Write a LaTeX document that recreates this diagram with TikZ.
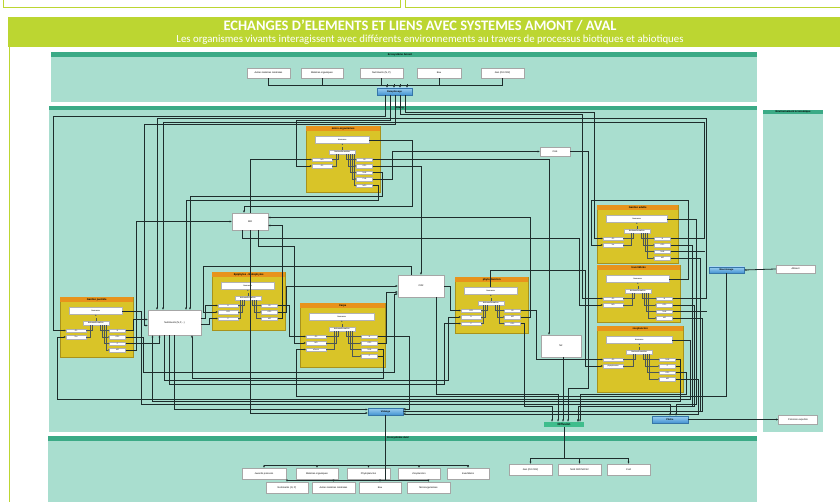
\documentclass[tikz,border=0pt]{standalone}
\usepackage{fontspec}
\setmainfont{Liberation Sans}
\newfontfamily\titlefont{Carlito}
\usetikzlibrary{arrows.meta,calc}
\definecolor{lime}{HTML}{BCD631}
\definecolor{panelc}{HTML}{A9DECF}
\definecolor{stripc}{HTML}{3BAA86}
\definecolor{bioy}{HTML}{D9C428}
\definecolor{biob}{HTML}{A8921C}
\definecolor{orng}{HTML}{E8931C}
\definecolor{linec}{HTML}{1E2C2C}
\definecolor{bluetop}{HTML}{9CCFF0}
\definecolor{bluebot}{HTML}{4393D2}
\definecolor{diffc}{HTML}{3FBD8C}
\tikzset{
  panel/.style={fill=panelc, draw=none},
  strip/.style={fill=stripc, draw=none},
  ptitle/.style={font=\fontsize{2.6}{3}\selectfont\bfseries, text=black, inner sep=0pt},
  wbox/.style={fill=white, draw=gray!70, line width=0.3pt, inner sep=0pt, font=\fontsize{2.4}{3}\selectfont},
  biobox/.style={fill=bioy, draw=biob, line width=0.6pt, inner sep=0pt},
  tbar/.style={fill=orng, draw=none, minimum height=4.5pt, inner sep=0pt, font=\fontsize{2.6}{3}\selectfont\bfseries},
  inbox/.style={fill=white, draw=gray!60, line width=0.2pt, inner sep=0pt, font=\fontsize{2}{2.4}\selectfont},
  port/.style={fill=white, draw=gray!60, line width=0.2pt, inner sep=0pt, minimum height=3.6pt, font=\fontsize{1.8}{2}\selectfont},
  ilink/.style={draw=linec!80, line width=0.35pt, -{Latex[length=1.2pt,width=1.2pt]}},
  iline/.style={draw=linec!80, line width=0.35pt},
  conn/.style={draw=linec, line width=0.8pt, -{Latex[length=2.2pt,width=2pt]}},
  bus/.style={draw=linec, line width=0.8pt},
  bluen/.style={top color=bluetop, bottom color=bluebot, draw=bluebot!80!black, line width=0.3pt, inner sep=0pt, font=\fontsize{2.4}{3}\selectfont\bfseries},
  diffn/.style={fill=diffc, draw=none, inner sep=0pt, font=\fontsize{3}{3.5}\selectfont\bfseries},
}
\newcommand{\BioBox}[8]{%
  \pgfmathsetmacro{\bw}{#4-#2}%
  \pgfmathsetmacro{\bh}{#5-#3}%
  \node[biobox, minimum width=\bw pt, minimum height=\bh pt, anchor=north west] (#1) at (#2,#3) {};
  \node[tbar, minimum width=\bw pt, anchor=north west] (#1-t) at (#2,#3) {#6};
  \node[inbox, minimum width=\bw pt-20pt, minimum height=7pt] (#1-b) at ($(#1.north)+(-1,14)$) {biomasse};
  \node[inbox, minimum width=26pt, minimum height=4.5pt] (#1-bt) at ($(#1.north)+(-1,26)$) {biotransformation};
  \draw[ilink, densely dashed] (#1-bt.north) -- (#1-b.south);
  \foreach \lab [count=\i] in {#7} {
    \node[port, minimum width=20pt, anchor=west] (#1-l\i) at ($(#1.north west)+(6,{27+6.5*\i})$) {\lab};
    \draw[iline] (#1-l\i.east) -| ($(#1-bt.south)+({-2-2*\i},0)$);
  }
  \foreach \lab [count=\i] in {#8} {
    \node[port, minimum width=16pt, anchor=east] (#1-r\i) at ($(#1.north east)+(-8,{27+6.5*\i})$) {\lab};
    \draw[ilink] ($(#1-bt.south)+({2+2*\i},0)$) |- (#1-r\i.west);
  }
}
\begin{document}
\begin{tikzpicture}[x=1pt,y=-1pt]
\useasboundingbox (0,0) rectangle (840,502);
\fill[white] (0,0) rectangle (840,502);
% header
\draw[lime, line width=1pt, fill=white] (3,-5) rectangle (400,8);
\draw[lime, line width=1pt, fill=white] (405,-5) rectangle (845,8);
\fill[lime] (8,17) rectangle (845,47);
\draw[lime, line width=1pt] (9,47) rectangle (850,510);
\node[font=\titlefont\bfseries\fontsize{14.5}{16}\selectfont, text=white, inner sep=0pt] (title) at (420,25.5) {ECHANGES D’ELEMENTS ET LIENS AVEC SYSTEMES AMONT / AVAL};
\node[font=\titlefont\fontsize{10.8}{12}\selectfont, text=white, inner sep=0pt] (subtitle) at (430,39.5) {Les organismes vivants interagissent avec différents environnements au travers de processus biotiques et abiotiques};
% panels
\fill[panel] (51,52) rectangle (757,102);
\fill[strip] (51,52) rectangle (757,57);
\node[ptitle] (tamont) at (400,54.5) {Ecosystème Amont};
\fill[panel] (49,106) rectangle (757,432);
\fill[strip] (49,106) rectangle (757,110.5);
\node[ptitle] (tetang) at (400,108.3) {Etang};
\fill[panel] (763,110) rectangle (823,432);
\fill[strip] (763,110) rectangle (823,114.5);
\node[ptitle] (teco) at (793,112.3) {Environnement économique};
\fill[panel] (48,436) rectangle (757,502);
\fill[strip] (48,436) rectangle (757,440.5);
\node[ptitle] (taval) at (398,438.3) {Ecosystème Aval};
% amont nodes
\node[wbox, minimum width=43pt, minimum height=10pt] (am1) at (268.5,73) {Autres matières minérales};
\node[wbox, minimum width=42pt, minimum height=10pt] (am2) at (322,73) {Matières organiques};
\node[wbox, minimum width=43pt, minimum height=10pt] (am3) at (381.5,73) {Nutriments (N, P)};
\node[wbox, minimum width=44pt, minimum height=10pt] (am4) at (439,73) {Eau};
\node[wbox, minimum width=43pt, minimum height=10pt] (am5) at (502.5,73) {Gaz (O2 CO2)};
\node[bluen, minimum width=35pt, minimum height=7pt] (rem) at (394.5,91.5) {Remplissage};
% free nodes
\node[wbox, minimum width=36pt, minimum height=17pt] (mo) at (250,221.5) {MO};
\node[wbox, minimum width=30pt, minimum height=9pt] (ch4) at (555,151.5) {CH4};
\node[wbox, minimum width=46pt, minimum height=22pt] (co2) at (421,286) {CO2};
\node[wbox, minimum width=40pt, minimum height=22pt] (n2) at (561,346) {N2};
\node[wbox, minimum width=53pt, minimum height=25pt] (nutr) at (174.5,322.5) {Nutriments (N,P,...)};
\node[bluen, minimum width=35pt, minimum height=6pt] (nour) at (726.5,270) {Nourrissage};
\node[wbox, minimum width=39pt, minimum height=8pt] (aliment) at (795.5,269) {Aliment};
\node[bluen, minimum width=35pt, minimum height=7pt] (vid) at (385.5,411.5) {Vidange};
\node[diffn, minimum width=40pt, minimum height=5pt] (diff) at (564,424.5) {Diffusion};
\node[bluen, minimum width=36pt, minimum height=7pt] (peche) at (670,419.5) {Pêche};
\node[wbox, minimum width=39pt, minimum height=9pt] (pexp) at (798,419.5) {Poissons exportés};
% aval nodes
\node[wbox, minimum width=44pt, minimum height=11pt] (av1) at (264,473.5) {Juvenils poissons};
\node[wbox, minimum width=42pt, minimum height=11pt] (av2) at (317,473.5) {Matières organiques};
\node[wbox, minimum width=43pt, minimum height=11pt] (av3) at (368.5,473.5) {Phytoplancton};
\node[wbox, minimum width=42pt, minimum height=11pt] (av4) at (419,473.5) {Zooplancton};
\node[wbox, minimum width=42pt, minimum height=11pt] (av5) at (468,473.5) {Invertébrés};
\node[wbox, minimum width=42pt, minimum height=11pt] (av6) at (287,487.5) {Nutriments (N, P)};
\node[wbox, minimum width=43pt, minimum height=11pt] (av7) at (333.5,487.5) {Autres matières minérales};
\node[wbox, minimum width=42pt, minimum height=11pt] (av8) at (380,487.5) {Eau};
\node[wbox, minimum width=43pt, minimum height=11pt] (av9) at (428.5,487.5) {Microorganismes};
\node[wbox, minimum width=43pt, minimum height=11pt] (ad1) at (530.5,469.5) {Gaz (O2 CO2)};
\node[wbox, minimum width=43pt, minimum height=11pt] (ad2) at (579.5,469.5) {NH3 N2O NO N2};
\node[wbox, minimum width=43pt, minimum height=11pt] (ad3) at (628.5,469.5) {CH4};
% bio boxes
\BioBox{micro}{306}{126}{380}{192}{micro-organismes}{MO,O2}{N2,CO2,NH4,CH4,NO3}
\BioBox{gad}{597}{205}{678}{263}{Gardon adulte}{O2,Inv}{N,CO2,NH4,MO}
\BioBox{inv}{597}{265}{680}{322}{Invertébrés}{O2,MO}{N,CO2,NH4,MO}
\BioBox{zoo}{597}{326}{683}{392}{zooplancton}{O2,phytoplancton}{NH4,P,CO2,MO}
\BioBox{gjuv}{60}{297}{133}{357}{Gardon juvénile}{O2,Zoo}{N,CO2,P,MO}
\BioBox{epi}{212}{272}{285}{330}{Epiphytes - Endophytes}{N,CO2,P}{O2,CO2,MO}
\BioBox{carpe}{300}{303}{385}{367}{Carpe}{O2,MO,aliment}{N,CO2,NH4,P}
\BioBox{phyto}{455}{277}{528}{333}{phytoplancton}{CO2,N,P}{O2,MO,CO2}
% amont -> remplissage
\draw[bus] (am1.south) -- ++(0,7) -| (am5.south);
\foreach \k in {am2,am3,am4} \draw[bus] (\k.south) -- ++(0,7);
\foreach \d in {-7.5,-0.5,5.5,12.5} \draw[conn] ([xshift=\d pt, yshift=3.5pt]rem.north) -- ([xshift=\d pt]rem.north);
% remplissage outputs
\draw[conn] ([xshift=-9pt]rem.south) |- (53,116) |- (gjuv-l1.west);
\draw[conn] ([xshift=-4pt]rem.south) |- (296,120) |- (micro-l2.west);
\draw[conn] ([xshift=1pt]rem.south) |- (144,124) |- ([yshift=-3pt]nutr.west);
\draw[conn] ([xshift=6pt]rem.south) |- (582,114) |- (inv-l1.west);
\draw[conn] ([xshift=11pt]rem.south) |- (594,112) |- (gad-l1.west);
% nutriments
\draw[conn] ([yshift=4pt]nutr.east) -- ++(4,0) |- (epi-l1.west);
\draw[conn] ([yshift=-2pt]nutr.east) -- ++(8,0) |- (epi-l3.west);
\draw[conn] ([xshift=-10pt]nutr.south) |- (448,380) |- (phyto-l2.west);
\draw[conn] ([xshift=-5pt]nutr.south) |- (444,384) |- (phyto-l3.west);
\draw[conn] (nutr.south) |- ([yshift=2pt]vid.west);
% MO
\draw[conn] (mo.north) |- (micro-l1.west);
\draw[conn] (gjuv-r4.east) -- ++(11,0) |- (mo.west);
\draw[conn] (epi-r3.east) -- ++(5,0) |- ([yshift=-4pt]mo.east);
\draw[conn] (phyto-r2.east) -- ++(10,0) |- ([yshift=4pt]mo.east);
\draw[conn] (micro-b.east) -| (412,206) -| ([xshift=-6pt]mo.north);
\draw[conn] (mo.south) |- ([yshift=-1.5pt]vid.west);
\draw[conn] ([xshift=-8pt]mo.south) |- (579,238) |- (inv-l2.west);
\draw[conn] ([xshift=8pt]mo.south) |- (294,246) |- (carpe-l2.west);
% CO2
\draw[conn] (epi-r2.east) -- ++(9,0) |- (co2.west);
\draw[conn] (carpe-r2.east) -- ++(9,0) |- ([yshift=-6pt]co2.west);
\draw[conn] (micro-r2.east) -| (co2.north);
\draw[conn] (gjuv-r2.east) -- ++(18,0) |- (394,372) |- ([yshift=-8pt]co2.west);
\draw[conn] (co2.east) -- ++(6,0) |- (phyto-l1.west);
\draw[conn] ([xshift=-10pt]co2.north) |- (203,266) |- (epi-l2.west);
\draw[conn] ([xshift=15pt]co2.south) |- (558,394) -- ([xshift=-6pt]diff.north);
% N2, CH4
\draw[conn] (micro-r1.east) -| ([xshift=-12pt]n2.north);
\draw[conn] (micro-r4.east) -- ++(20,0) |- (ch4.west);
\draw[conn] ([xshift=2pt]n2.south) -- ([xshift=-1pt]diff.north);
\draw[conn] (ch4.east) -| (588,388) -| ([xshift=4pt]diff.north);
\draw[conn] (phyto-r3.east) -- ++(4,0) |- (552,406) -- ([xshift=-12pt]diff.north);
% micro -> nutriments
\draw[conn] (micro-r3.east) -- ++(10,0) |- (190,196) -- ([xshift=15.5pt]nutr.north);
\draw[conn] (micro-r5.east) -- ++(6,0) |- (186,200) -- ([xshift=11.5pt]nutr.north);
% gardon juvenile
\draw[conn] (gjuv-r1.east) -- ++(8,0) |- ([yshift=3pt]nutr.west);
\draw[conn] (gjuv-r3.east) -| ([xshift=-15pt]nutr.south);
\draw[conn] (gjuv-b.east) -| (141,404) -| (peche.north);
\draw[conn] (zoo-b.east) -| (690,399) -- (57,399) |- (gjuv-l2.west);
% carpe
\draw[conn] (epi-r1.east) -- ++(12,0) |- (carpe-l1.west);
\draw[conn] (nour.south) |- (296,396.5) |- (carpe-l3.west);
\draw[conn] (carpe-r1.east) -- ++(32,0) |- ([yshift=2.5pt]vid.east);
\draw[conn] (carpe-r4.east) -- ++(6,0) |- (192,378) -- ([xshift=17.5pt]nutr.south);
\draw[bus] (carpe-r3.east) -- ++(6,0) -- ([xshift=6pt]carpe-r4.east);
% gardon adulte, invertebres, zooplancton
\draw[conn] (inv-b.east) -| (688,200) -- (591,200) |- (gad-l2.west);
\draw[conn] (phyto-b.north) |- (585,270) |- (zoo-l2.west);
\draw[conn] (phyto-r1.east) -- ++(16,0) |- (zoo-l1.west);
\draw[conn] (gad-b.east) -| (696,404) -| ([xshift=6pt]peche.north);
\draw[conn] (gad-r2.east) -| (692,406) -| ([xshift=14pt]diff.north);
\draw[conn] (inv-r2.east) -| (694,406) -| ([xshift=14pt]diff.north);
\draw[conn] (zoo-r3.east) -| (686,394) -| ([xshift=16pt]diff.north);
\draw[conn] (gad-r4.east) -| (700,411.5) -- (vid.east);
\draw[conn] (inv-r4.east) -| (702,411.5) -- (vid.east);
\draw[conn] (zoo-r4.east) -| (698,414) -- ([yshift=-2.5pt]vid.east);
\draw[conn] (gad-r1.east) -| (704,122) -| ([xshift=-11.5pt]nutr.north);
\draw[conn] (inv-r1.east) -| (706,118) -| ([xshift=-17.5pt]nutr.north);
\draw[bus] (gad-r3.east) -- ++(34,0);
\draw[bus] (inv-r3.east) -- ++(34,0);
\draw[conn] (zoo-r1.east) -- ++(5,0) |- (152.5,401.5) -- ([xshift=-22pt]nutr.south);
\draw[bus] (zoo-r2.east) -- ++(5,0);
% economic environment
\draw[conn] (aliment.west) -- (nour.east);
\draw[conn] (peche.east) -- (pexp.west);
% vidange -> aval
\coordinate (vj1) at (385.5,465);
\coordinate (vj2) at (385.5,480.5);
\draw[bus] (vid.south) -- (vj2);
\draw[bus] (av1.north |- vj1) -- (av5.north |- vj1);
\draw[bus] (av6.north |- vj2) -- (av9.north |- vj2);
\foreach \k in {av1,av2,av3,av4,av5} \draw[conn] (\k.north |- vj1) -- (\k.north);
\foreach \k in {av6,av7,av8,av9} \draw[conn] (\k.north |- vj2) -- (\k.north);
% diffusion -> aval
\coordinate (dj) at (564,458);
\draw[bus] (diff.south) -- (dj);
\draw[conn] (dj) -| (ad1.north);
\draw[conn] (dj) -| (ad2.north);
\draw[conn] (dj) -| (ad3.north);
\end{tikzpicture}
\end{document}
